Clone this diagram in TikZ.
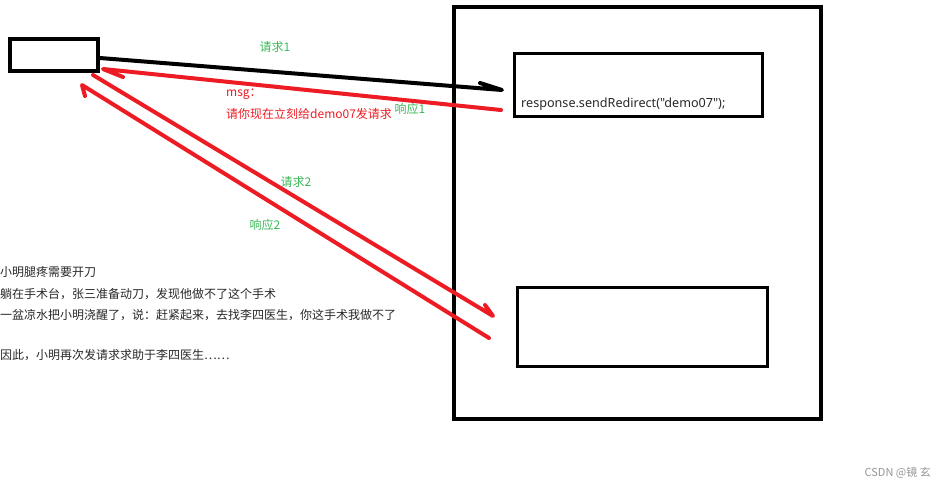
\documentclass[tikz,border=0pt]{standalone}
\usepackage{fontspec}
\setmainfont{Noto Sans CJK SC}
\newfontfamily\latinfont{Noto Sans}
\definecolor{lblgreen}{RGB}{60,185,90}
\definecolor{pred}{RGB}{237,28,36}
\definecolor{txtdark}{RGB}{40,40,40}
\definecolor{wmgray}{RGB}{150,150,150}
\tikzset{
  boxthick/.style={draw=black, line width=4pt, inner sep=0pt},
  boxthin/.style={draw=black, line width=3pt, inner sep=0pt},
  blackline/.style={draw=black, line width=4pt, line cap=round, line join=round},
  redline/.style={draw=pred, line width=4pt, line cap=round, line join=round},
  glabel/.style={text=lblgreen, font=\fontsize{12}{14}\selectfont, inner sep=0pt},
  rlabel/.style={text=pred, font=\fontsize{12}{14}\selectfont, inner sep=0pt, anchor=west},
  story/.style={text=txtdark, font=\fontsize{12}{14}\selectfont, inner sep=0pt, anchor=west},
}
\begin{document}
\begin{tikzpicture}[x=1pt, y=-1pt]
\useasboundingbox[fill=white] (0,0) rectangle (947,489);
% boxes
\draw[boxthick] (10,39) rectangle (98,71);
\draw[boxthick] (454,7) rectangle (821,419);
\draw[boxthin] (514,54) rectangle (762,117);
\draw[boxthin] (517,287) rectangle (767,366);
\node[text=txtdark, font=\latinfont\fontsize{12.6}{15}\selectfont, inner sep=0pt, anchor=west] (code) at (521,104) {response.sendRedirect("demo07");};
% endpoints
\coordinate (a1s) at (100,58);
\coordinate (a1e) at (502,90);
\coordinate (a1b) at (480,83);
\coordinate (r1s) at (501,110);
\coordinate (r1e) at (103,69);
\coordinate (r1b) at (123,77);
\coordinate (a2s) at (93,75);
\coordinate (a2e) at (493,316);
\coordinate (a2b) at (485,305);
\coordinate (r2s) at (489,338);
\coordinate (r2e) at (82,85);
\coordinate (r2b) at (85,96);
% connectors with one-sided barbs
\draw[blackline] (a1s) -- (a1e) -- (a1b);
\draw[redline] (r1s) -- (r1e) -- (r1b);
\draw[redline] (a2s) -- (a2e) -- (a2b);
\draw[redline] (r2s) -- (r2e) -- (r2b);
% labels
\node[glabel] (q1) at (275,47) {请求1};
\node[glabel] (p1) at (410,109) {响应1};
\node[glabel] (q2) at (296,182) {请求2};
\node[glabel] (p2) at (265,225) {响应2};
\node[rlabel] (msg) at (226,94) {msg：};
\node[rlabel] (msg2) at (226,114) {请你现在立刻给demo07发请求};
% story
\node[story] (s1) at (0,272) {小明腿疼需要开刀};
\node[story] (s2) at (0,294) {躺在手术台，张三准备动刀，发现他做不了这个手术};
\node[story] (s3) at (0,315) {一盆凉水把小明浇醒了，说：赶紧起来，去找李四医生，你这手术我做不了};
\node[story] (s4) at (0,355) {因此，小明再次发请求求助于李四医生……};
% watermark
\node[text=wmgray, font=\fontsize{11}{13}\selectfont, inner sep=0pt, anchor=east] (wm) at (931,473) {CSDN @镜 玄};
\end{tikzpicture}
\end{document}
